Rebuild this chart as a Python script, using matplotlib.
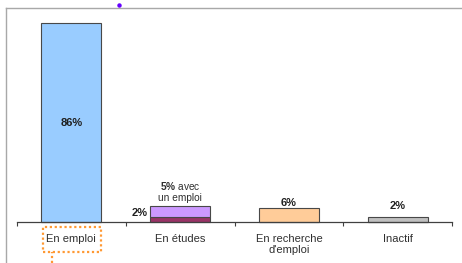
import matplotlib
matplotlib.use("Agg")
import matplotlib.pyplot as plt
from matplotlib.patches import Rectangle
from matplotlib.lines import Line2D

plt.rcParams['font.family'] = ['Liberation Sans', 'DejaVu Sans']
plt.rcParams['mathtext.fontset'] = 'custom'
plt.rcParams['mathtext.bf'] = 'Liberation Sans:bold'
plt.rcParams['mathtext.rm'] = 'Liberation Sans'

categories = ["En emploi", "En études", "En recherche\nd'emploi", "Inactif"]
main_values = [86, 5, 6, 2]          # top segment / single bar
base_values = [0, 2, 0, 0]           # études: 2% base segment
main_colors = ["#99CCFF", "#CC99FF", "#FFCC99", "#C0C0C0"]
base_color = "#993366"
value_labels = ["86%", None, "6%", "2%"]

W, H = 462, 263
fig = plt.figure(figsize=(W / 100, H / 100), dpi=100)
fig.patch.set_facecolor("white")

# axes: baseline at y=222px, x from 17 to 452px, top where 86% lands (y=23px)
ax = fig.add_axes([17 / W, (H - 222) / H, 435 / W, 199 / H])
ax.set_xlim(-0.5, 3.5)
ax.set_ylim(0, 86)
ax.patch.set_alpha(0)

x = list(range(len(categories)))
bw = 0.552
edge = "#484848"
ax.bar(x, base_values, width=bw, color=base_color, edgecolor=edge, linewidth=0.8, clip_on=False)
ax.bar(x, main_values, width=bw, bottom=base_values, color=main_colors,
       edgecolor=edge, linewidth=0.8, clip_on=False)

for s in ["top", "right", "left"]:
    ax.spines[s].set_visible(False)
ax.spines["bottom"].set_color("#404040")
ax.spines["bottom"].set_linewidth(0.9)
ax.set_yticks([])
ax.set_xticks([-0.5, 0.5, 1.5, 2.5, 3.5])
ax.set_xticklabels([])
ax.tick_params(axis="x", which="major", direction="out", length=3, color="#404040", width=0.8)
ax.set_xticks(x, minor=True)
ax.set_xticklabels(categories, minor=True, fontsize=8, color="#303030")
ax.tick_params(axis="x", which="minor", length=0, pad=8.5)

# value labels
ax.text(0, 43, value_labels[0], ha="center", va="center", fontsize=8, fontweight="bold", color="#202020")
ax.annotate(value_labels[2], (2, main_values[2]), xytext=(0, 0), textcoords="offset points",
            ha="center", va="bottom", fontsize=8, fontweight="bold", color="#202020")
ax.annotate(value_labels[3], (3, main_values[3]), xytext=(0, 4.5), textcoords="offset points",
            ha="center", va="bottom", fontsize=8, fontweight="bold", color="#202020")
ax.annotate("2%", (1 - bw / 2, 3.9), xytext=(-2, 0), textcoords="offset points",
            ha="right", va="center", fontsize=8, fontweight="bold", color="#202020")
ax.annotate("$\\bf{5\\%}$ avec\nun emploi", (1, base_values[1] + main_values[1]),
            xytext=(0, 2), textcoords="offset points", ha="center", va="bottom",
            multialignment="center", fontsize=7.3, color="#303030", linespacing=1.15)

# outer frame lines (gray)
fig.add_artist(Line2D([6 / W, 1], [1 - 8 / H, 1 - 8 / H], color="#A8A8A8", lw=1.0))
fig.add_artist(Line2D([6 / W, 6 / W], [0, 1 - 8 / H], color="#A8A8A8", lw=1.0))

# purple dot
fig.add_artist(Line2D([119 / W], [1 - 5 / H], marker="o", markersize=2.2, color="#6600FF", lw=0))

# orange dotted selection box around "En emploi"
fig.add_artist(Rectangle((43 / W, 1 - 252 / H), 58 / W, 25 / H, fill=False,
                         edgecolor="#FF9933", linestyle=(0, (1, 1.2)), lw=1.6))
fig.add_artist(Line2D([52 / W, 52 / W], [0, 1 - 252 / H], color="#FF9933",
                      linestyle=(0, (1, 1.2)), lw=1.6))

fig.savefig("out.png", dpi=100)
